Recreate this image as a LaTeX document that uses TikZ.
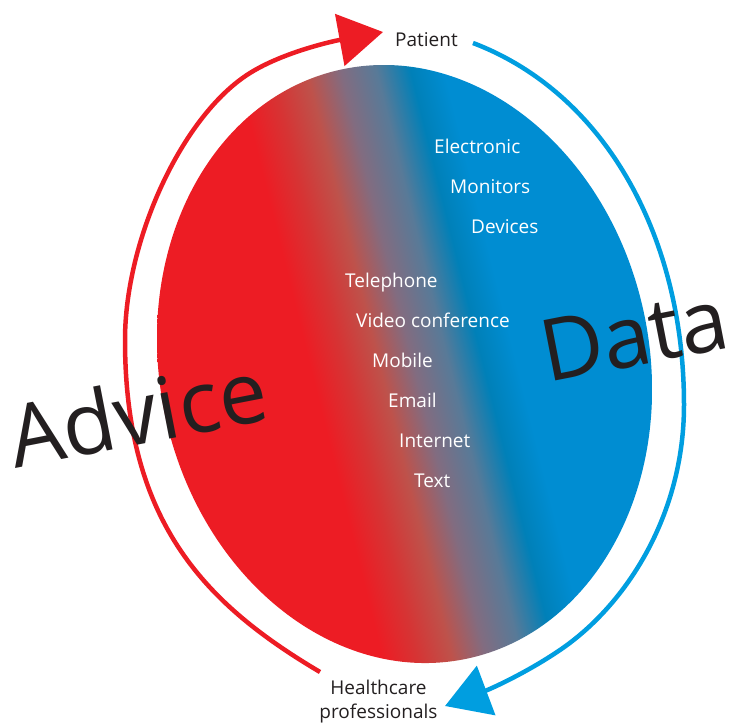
\documentclass[tikz,border=0pt]{standalone}
\usepackage{fontspec}
\setmainfont{Open Sans}
\usetikzlibrary{arrows.meta}
\definecolor{cred}{RGB}{237,28,36}
\definecolor{cmix}{RGB}{214,52,52}
\definecolor{cbrown}{RGB}{190,82,75}
\definecolor{cgray}{RGB}{130,108,128}
\definecolor{cbgray}{RGB}{88,122,152}
\definecolor{cteal}{RGB}{0,128,184}
\definecolor{cblue}{RGB}{0,141,210}
\definecolor{arcblue}{RGB}{0,158,224}
\definecolor{ink}{RGB}{35,31,32}
\pgfdeclarehorizontalshading{advdata}{100bp}{color(0bp)=(cred); color(41bp)=(cred); color(44.3bp)=(cmix); color(47.6bp)=(cbrown); color(50.8bp)=(cgray); color(54.2bp)=(cbgray); color(57.4bp)=(cteal); color(60.6bp)=(cblue); color(100bp)=(cblue)}
\begin{document}
\begin{tikzpicture}[x=1pt,y=-1pt,
  lbl/.style={inner sep=0pt, text=ink, font=\fontsize{19pt}{24pt}\selectfont},
  inlbl/.style={inner sep=0pt, text=white, anchor=base west, font=\fontsize{19pt}{24pt}\selectfont},
  big/.style={inner sep=0pt, text=ink, anchor=base west, rotate=11, font=\fontsize{86pt}{86pt}\selectfont},
  redarc/.style={draw=cred, line width=4.5pt, -{Triangle[length=44pt,width=52pt]}},
  bluearc/.style={draw=arcblue, line width=4.5pt, -{Triangle[length=44pt,width=52pt]}}]
\useasboundingbox (0,0) rectangle (734,723);
\coordinate (ctr) at (404.5,364);
\begin{scope}
  \clip[rotate around={12:(ctr)}] (ctr) ellipse [x radius=244.8pt, y radius=301.2pt];
  \shade[shading=advdata, shading angle=13.9] (157,65) rectangle (652,663);
\end{scope}
% arc end points and waypoints
\coordinate (rstart) at (320,672);
\coordinate (rleft) at (125,340);
\coordinate (rtop) at (250,73);
\coordinate (rtip) at (383,32);
\coordinate (bstart) at (473,43);
\coordinate (bright) at (684,405);
\coordinate (blow) at (560,650);
\coordinate (btip) at (445,706);
\draw[redarc] (rstart) .. controls +(-111.8,-66.3) and +(0,185) .. (rleft)
  .. controls +(0,-100) and +(-68,42.4) .. (rtop)
  .. controls +(34,-21.2) and +(-49.2,9) .. (rtip);
\draw[bluearc] (bstart) .. controls +(130.9,49.7) and +(0,-170) .. (bright)
  .. controls +(0,110) and +(66.2,-45) .. (blow)
  .. controls +(-33.1,22.5) and +(46.8,-17.6) .. (btip);
\node[lbl, anchor=base west] (patient) at (395,46.7) {Patient};
\node[lbl, align=center, anchor=north] (hcp) at (378.5,679.5) {Healthcare\\professionals};
\node[inlbl] (electronic) at (434,153) {Electronic};
\node[inlbl] (monitors) at (450,193) {Monitors};
\node[inlbl] (devices) at (471,233) {Devices};
\node[inlbl] (telephone) at (345,287.5) {Telephone};
\node[inlbl] (video) at (356,327.5) {Video conference};
\node[inlbl] (mobile) at (372,367.5) {Mobile};
\node[inlbl] (email) at (388,407.5) {Email};
\node[inlbl] (internet) at (399,447.5) {Internet};
\node[inlbl] (textlbl) at (414,487.5) {Text};
\node[big] (advice) at (15,469) {Advice};
\node[big] (data) at (547,383) {Data};
\end{tikzpicture}
\end{document}
